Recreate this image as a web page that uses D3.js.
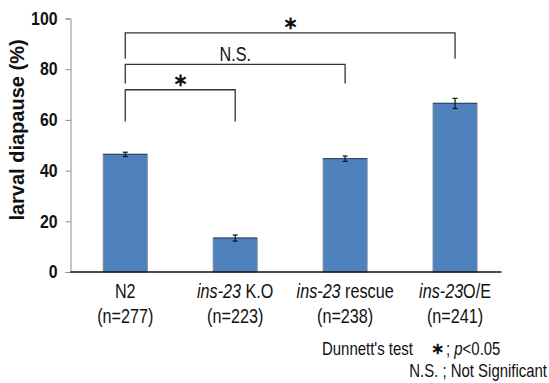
<!DOCTYPE html>
<html>
<head>
<meta charset="utf-8">
<script src="https://cdn.jsdelivr.net/npm/d3@7"></script>
<style>
  body { margin: 0; background: #fff; }
  svg { display: block; }
</style>
</head>
<body>
<div></div>
<script>
// chart data
const italicPart = ["", "ins-23", "ins-23", "ins-23"];
const plainPart = ["N2", " K.O", " rescue", "O/E"];
const sampleSizes = [277, 223, 238, 241];
const values = [46.4, 13.4, 44.7, 66.5];
const errors = [0.85, 1.2, 1.05, 2.0];
const yTicks = [0, 20, 40, 60, 80, 100];
// brackets: from/to index, bracket level and drop level (in % units), mark
const compFrom = [0, 0, 0];
const compTo = [1, 2, 3];
const compLevel = [71.9, 81.9, 94.3];
const compDrop = [59.4, 74.4, 84.1];
const compMark = ["*", "N.S.", "*"];

const width = 549;
const height = 383;
const sans = "'Liberation Sans', Arial, sans-serif";
const squeeze = 0.83; // no narrow font installed, so squeeze Liberation Sans

const svg = d3
  .select("div")
  .append("svg")
  .attr("width", width)
  .attr("height", height);

// text drawn narrow (like Arial Narrow)
function narrowText(parent, x, y, anchor, size) {
  return parent
    .append("g")
    .attr("transform", `translate(${x},${y}) scale(${squeeze},1)`)
    .append("text")
    .attr("text-anchor", anchor)
    .attr("font-family", sans)
    .attr("font-size", size)
    .attr("fill", "#111");
}

function star(parent, x, y, size) {
  parent
    .append("text")
    .attr("x", x)
    .attr("y", y)
    .attr("text-anchor", "middle")
    .attr("font-family", sans)
    .attr("font-weight", "bold")
    .attr("font-size", size)
    .attr("fill", "#111")
    .text("\u2217");
}

const xScale = d3
  .scaleBand()
  .domain(d3.range(values.length))
  .range([70.3, 510])
  .paddingInner(0.6)
  .paddingOuter(0.3);

const yScale = d3.scaleLinear().domain([0, 100]).range([272, 18.5]);
const axisX = 70.5;

// y axis
const yAxis = svg
  .append("g")
  .attr("transform", `translate(${axisX},0)`)
  .call(d3.axisLeft(yScale).tickValues(yTicks).tickSize(5).tickPadding(0));
yAxis.select(".domain").attr("stroke", "#8c8c8c");
yAxis.selectAll(".tick line").attr("stroke", "#8c8c8c");
yAxis
  .selectAll(".tick text")
  .attr("x", -13 / 0.88)
  .attr("transform", "scale(0.88,1)")
  .attr("font-family", sans)
  .attr("font-weight", "bold")
  .attr("font-size", 18)
  .attr("fill", "#111");

// title
svg
  .append("text")
  .attr("transform", "translate(24,130) rotate(-90)")
  .attr("text-anchor", "middle")
  .attr("font-family", sans)
  .attr("font-weight", "bold")
  .attr("font-size", 20)
  .attr("fill", "#111")
  .text("larval diapause (%)");

// bars
const bars = svg.append("g");
bars
  .selectAll("rect")
  .data(values)
  .enter()
  .append("rect")
  .attr("x", (d, i) => xScale(i))
  .attr("y", (d) => yScale(d))
  .attr("width", xScale.bandwidth())
  .attr("height", (d) => yScale(0) - yScale(d))
  .attr("fill", "#4f81bd")
  .attr("stroke", "#7a8799")
  .attr("stroke-width", 1);
bars
  .selectAll("line.top")
  .data(values)
  .enter()
  .append("line")
  .attr("class", "top")
  .attr("x1", (d, i) => xScale(i))
  .attr("x2", (d, i) => xScale(i) + xScale.bandwidth())
  .attr("y1", (d) => yScale(d))
  .attr("y2", (d) => yScale(d))
  .attr("stroke", "#2f4a6e")
  .attr("stroke-width", 1.2);

// error bars
const errG = svg.append("g").attr("stroke", "#111").attr("stroke-width", 1.2);
values.forEach((v, i) => {
  const cx = xScale(i) + xScale.bandwidth() / 2;
  const lo = yScale(v - errors[i]);
  const hi = yScale(v + errors[i]);
  errG.append("line").attr("x1", cx).attr("x2", cx).attr("y1", lo).attr("y2", hi);
  errG.append("line").attr("x1", cx - 2.5).attr("x2", cx + 2.5).attr("y1", lo).attr("y2", lo);
  errG.append("line").attr("x1", cx - 2.5).attr("x2", cx + 2.5).attr("y1", hi).attr("y2", hi);
});

// x baseline
svg
  .append("line")
  .attr("x1", axisX)
  .attr("x2", 501.5)
  .attr("y1", yScale(0))
  .attr("y2", yScale(0))
  .attr("stroke", "#111")
  .attr("stroke-width", 1.5);

// category labels
const cat = svg.append("g");
plainPart.forEach((p, i) => {
  const cx = xScale(i) + xScale.bandwidth() / 2;
  const t = narrowText(cat, cx, 298, "middle", 19.5);
  if (italicPart[i]) t.append("tspan").attr("font-style", "italic").text(italicPart[i]);
  t.append("tspan").text(p);
  narrowText(cat, cx, 323, "middle", 19.5).text(`(n=${sampleSizes[i]})`);
});

// significance brackets
const br = svg.append("g");
compFrom.forEach((f, k) => {
  const x1 = xScale(f) + xScale.bandwidth() / 2;
  const x2 = xScale(compTo[k]) + xScale.bandwidth() / 2;
  const yl = yScale(compLevel[k]);
  const yd = yScale(compDrop[k]);
  br.append("path")
    .attr("d", `M${x1},${yd}V${yl}H${x2}V${yd}`)
    .attr("fill", "none")
    .attr("stroke", "#333")
    .attr("stroke-width", 1.3);
  if (compMark[k] === "*") {
    star(br, (x1 + x2) / 2, yl - 4, 18);
  } else {
    narrowText(br, (x1 + x2) / 2, yl - 3, "middle", 19.5).text(compMark[k]);
  }
});

// legend
const leg = svg.append("g");
narrowText(leg, 322, 355, "start", 18).text("Dunnett's test");
star(leg, 437, 354, 16);
const l1 = narrowText(leg, 446, 355, "start", 18);
l1.append("tspan").text("; ");
l1.append("tspan").attr("font-style", "italic").text("p");
l1.append("tspan").text("<0.05");
narrowText(leg, 547, 377, "end", 18).text("N.S. ; Not Significant");
</script>
</body>
</html>
